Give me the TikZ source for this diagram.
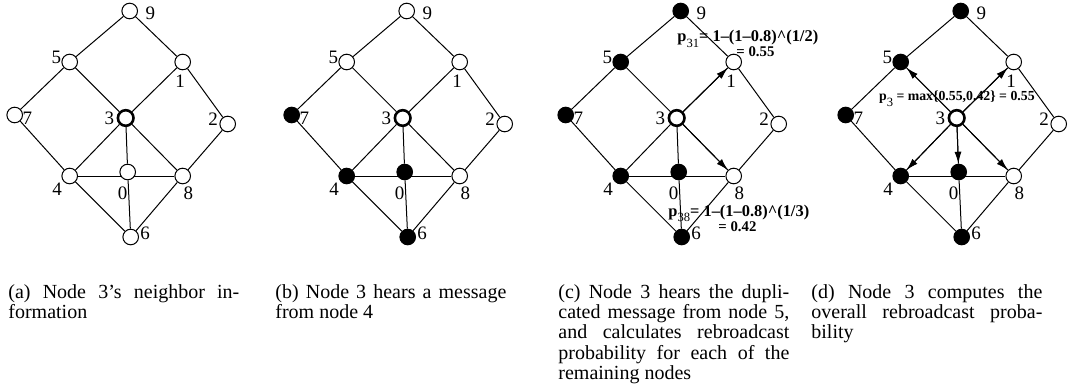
\documentclass[tikz,border=0pt]{standalone}
\usepackage{fontspec}
\setmainfont{Liberation Serif}
\usetikzlibrary{arrows.meta,backgrounds}

\newcommand{\probsub}[1]{\textbf{p}\raisebox{-2.8pt}{\fontsize{6.3}{7}\selectfont\mdseries #1}}

\tikzset{s0/.style={},s1/.style={},s2/.style={},s3/.style={source},s4/.style={},
  s5/.style={},s6/.style={},s7/.style={},s8/.style={},s9/.style={}}

% one copy of the network, nodes named #1<number>
\newcommand{\drawnet}[1]{%
  \foreach \n/\nx/\ny/\lx/\ly in {9/4/-107/24.7/-104.7, 5/-56/-56/-69.3/-60.3,
      1/57/-56/54.5/-37, 7/-111/-3/-98.3/0.3, 3/0/0/-16.3/0, 2/102/6/87.3/1,
      4/-56/58/-68.7/71.3, 0/2/54/-3/75, 8/57/58/62.7/75.5, 6/5/119/19.3/115} {
    \node[vertex,s\n] (#1\n) at (\nx,\ny) {};
    \node[num] (#1l\n) at (\lx,\ly) {\n};
  }
  \begin{scope}[on background layer]
    \foreach \u/\v in {9/5,9/1,5/7,5/3,1/3,1/2,7/4,3/4,3/8,3/0,2/8,4/8,4/6,8/6,0/6}
      \draw[link] (#1\u) -- (#1\v);
  \end{scope}
}

\begin{document}
\begin{tikzpicture}[x=0.5pt,y=-0.5pt,
    vertex/.style={circle,draw,fill=white,line width=0.5pt,minimum size=7.8pt,inner sep=0pt},
    heard/.style={fill=black},
    source/.style={line width=1.3pt},
    num/.style={inner sep=0pt,font=\fontsize{9.5}{10}\selectfont},
    link/.style={line width=0.5pt},
    push/.style={line width=0.5pt,-{Latex[length=6pt,width=3.5pt]}},
    formula/.style={inner sep=0pt,anchor=base west,font=\fontsize{7.4}{8}\selectfont\bfseries},
    caption/.style={anchor=base west,inner sep=0pt,text width=115.5pt,align=justify,
      font=\fontsize{10}{10.2}\selectfont}]

  \useasboundingbox (0,0) rectangle (1085,385);

  % (a)
  \begin{scope}[shift={(125.7,118)}]
    \drawnet{a}
  \end{scope}

  % (b)
  \begin{scope}[shift={(402.7,118)},s7/.style=heard,s4/.style=heard,s0/.style=heard,s6/.style=heard]
    \drawnet{b}
  \end{scope}

  % (c)
  \begin{scope}[shift={(676.7,118)},s9/.style=heard,s5/.style=heard,s7/.style=heard,
      s4/.style=heard,s0/.style=heard,s6/.style=heard]
    \drawnet{c}
    \draw[push] (c3) -- (c1);
    \draw[push] (c3) -- (c8);
    \node[formula,font=\fontsize{8.2}{9}\selectfont\bfseries] (cp31) at (0.3,-76)
      {\probsub{31}= 1--(1--0.8)\textasciicircum(1/2)};
    \node[formula] (cv31) at (59.3,-61) {= 0.55};
    \node[formula,font=\fontsize{8.2}{9}\selectfont\bfseries] (cp38) at (-8.7,98)
      {\probsub{38}= 1--(1--0.8)\textasciicircum(1/3)};
    \node[formula] (cv38) at (41.3,113) {= 0.42};
  \end{scope}

  % (d)
  \begin{scope}[shift={(956.7,118)},s9/.style=heard,s5/.style=heard,s7/.style=heard,
      s4/.style=heard,s0/.style=heard,s6/.style=heard]
    \drawnet{d}
    \foreach \t in {5,1,4,0,8}
      \draw[push] (d3) -- (d\t);
    \node[formula,font=\fontsize{6.9}{8}\selectfont\bfseries] (dp3) at (-78,-17)
      {\probsub{3} = max\{0.55,0.42\} = 0.55};
  \end{scope}

  % captions
  \node[caption] (capa) at (8,298) {(a) Node 3's neighbor in-\linebreak formation};
  \node[caption] (capb) at (275,298) {(b) Node 3 hears a message\linebreak from node 4};
  \node[caption] (capc) at (558,298) {(c) Node 3 hears the dupli-\linebreak cated message from node 5,\linebreak
    and calculates rebroadcast\linebreak probability for each of the\linebreak remaining nodes};
  \node[caption] (capd) at (811,298) {(d) Node 3 computes the\linebreak overall rebroadcast proba-\linebreak bility};
\end{tikzpicture}
\end{document}
